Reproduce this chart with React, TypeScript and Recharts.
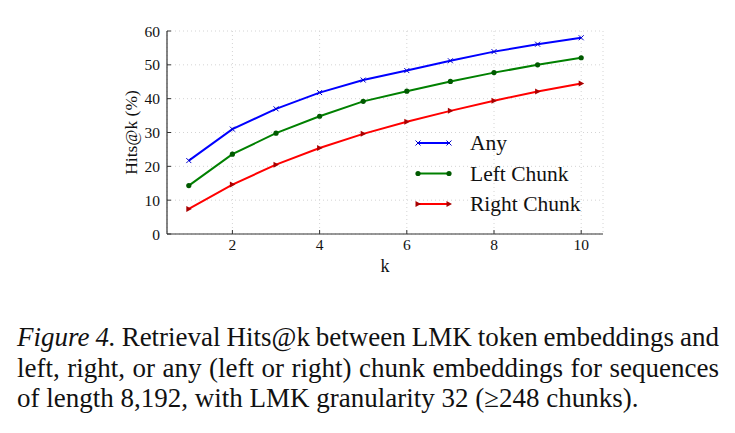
import { LineChart, Line, XAxis, YAxis, CartesianGrid, Label } from 'recharts';

const ks = [1, 2, 3, 4, 5, 6, 7, 8, 9, 10];
const anyHits = [21.7, 31.0, 37.0, 41.8, 45.5, 48.3, 51.2, 53.9, 56.1, 58.0];
const leftHits = [14.3, 23.6, 29.8, 34.8, 39.2, 42.2, 45.1, 47.7, 50.0, 52.1];
const rightHits = [7.4, 14.6, 20.5, 25.4, 29.6, 33.2, 36.4, 39.4, 42.1, 44.5];
const xTicks = [2, 4, 6, 8, 10];
const yTicks = [0, 10, 20, 30, 40, 50, 60];

const data = ks.map((k, i) => ({ k, any: anyHits[i], left: leftHits[i], right: rightHits[i] }));

const SERIF = '"Liberation Serif", "DejaVu Serif", serif';

function CrossDot({ cx, cy, color }: any) {
  const s = 2.5;
  return (
    <g>
      <line x1={cx - s} y1={cy - s} x2={cx + s} y2={cy + s} stroke={color} strokeWidth={1} />
      <line x1={cx - s} y1={cy + s} x2={cx + s} y2={cy - s} stroke={color} strokeWidth={1} />
    </g>
  );
}

function CircleDot({ cx, cy, color }: any) {
  return <circle cx={cx} cy={cy} r={2.6} fill={color} stroke="none" />;
}

function TriDot({ cx, cy, color }: any) {
  return <polygon points={`${cx - 2.5},${cy - 3} ${cx + 3},${cy} ${cx - 2.5},${cy + 3}`} fill={color} />;
}

const series = [
  { key: 'any', name: 'Any', color: '#0000ff', mark: '#0000cc', Dot: CrossDot },
  { key: 'left', name: 'Left Chunk', color: '#008000', mark: '#005a00', Dot: CircleDot },
  { key: 'right', name: 'Right Chunk', color: '#ff0000', mark: '#aa0000', Dot: TriDot },
];

// legend drawn as an overlay so it doesn't eat into the plot area
function LegendBox() {
  return (
    <svg width={200} height={95} style={{ position: 'absolute', left: 410, top: 128 }}>
      {series.map((s, i) => {
        const y = 15 + i * 30.5;
        return (
          <g key={s.key}>
            <line x1={8} y1={y} x2={39} y2={y} stroke={s.color} strokeWidth={2} />
            <s.Dot cx={8} cy={y} color={s.mark} />
            <s.Dot cx={39} cy={y} color={s.mark} />
            <text x={60} y={y + 7} fontSize={21.5} fontFamily={SERIF} fill="#111">{s.name}</text>
          </g>
        );
      })}
    </svg>
  );
}

const capLine = { textAlign: 'justify', textAlignLast: 'justify', whiteSpace: 'nowrap', wordSpacing: -4 } as const;

export default function App() {
  return (
    <div style={{ position: 'absolute', left: 0, top: 0, width: 735, height: 433, background: '#fff', overflow: 'hidden' }}>
      <LineChart width={735} height={300} data={data} margin={{ top: 31, right: 132, left: 95, bottom: 2 }}>
        <CartesianGrid stroke="#d4d4d4" strokeDasharray="1 3" />
        <XAxis
          dataKey="k"
          type="number"
          domain={[0.5, 10.5]}
          ticks={xTicks}
          height={64}
          tickSize={-4}
          tickMargin={9}
          axisLine={{ stroke: '#333', strokeWidth: 1.2 }}
          tickLine={{ stroke: '#333' }}
          tick={{ fontSize: 15.5, fontFamily: SERIF, fill: '#111' }}
        >
          <Label value="k" position="center" fontSize={18} fontFamily={SERIF} fill="#111" />
        </XAxis>
        <YAxis
          type="number"
          domain={[0, 60]}
          ticks={yTicks}
          width={72}
          tickSize={-4}
          tickMargin={11}
          axisLine={{ stroke: '#333', strokeWidth: 1.2 }}
          tickLine={{ stroke: '#333' }}
          tick={{ fontSize: 15.5, fontFamily: SERIF, fill: '#111' }}
        >
          <Label value="Hits@k (%)" position="center" angle={-90} fontSize={17.5} fontFamily={SERIF} fill="#111" />
        </YAxis>
        {series.map((s) => (
          <Line
            key={s.key}
            dataKey={s.key}
            name={s.name}
            stroke={s.color}
            strokeWidth={2}
            isAnimationActive={false}
            dot={(p: any) => <s.Dot key={`${s.key}-${p.index}`} cx={p.cx} cy={p.cy} color={s.mark} />}
            activeDot={false}
          />
        ))}
      </LineChart>
      <LegendBox />
      <div style={{ position: 'absolute', left: 17, top: 322, width: 702, fontFamily: SERIF, fontSize: 27, lineHeight: '30.5px', color: '#111' }}>
        <div style={capLine}><i>Figure 4.</i> Retrieval Hits@k between LMK token embeddings and</div>
        <div style={capLine}>left, right, or any (left or right) chunk embeddings for sequences</div>
        <div style={{ whiteSpace: 'nowrap' }}>of length 8,192, with LMK granularity 32 (≥248 chunks).</div>
      </div>
    </div>
  );
}
